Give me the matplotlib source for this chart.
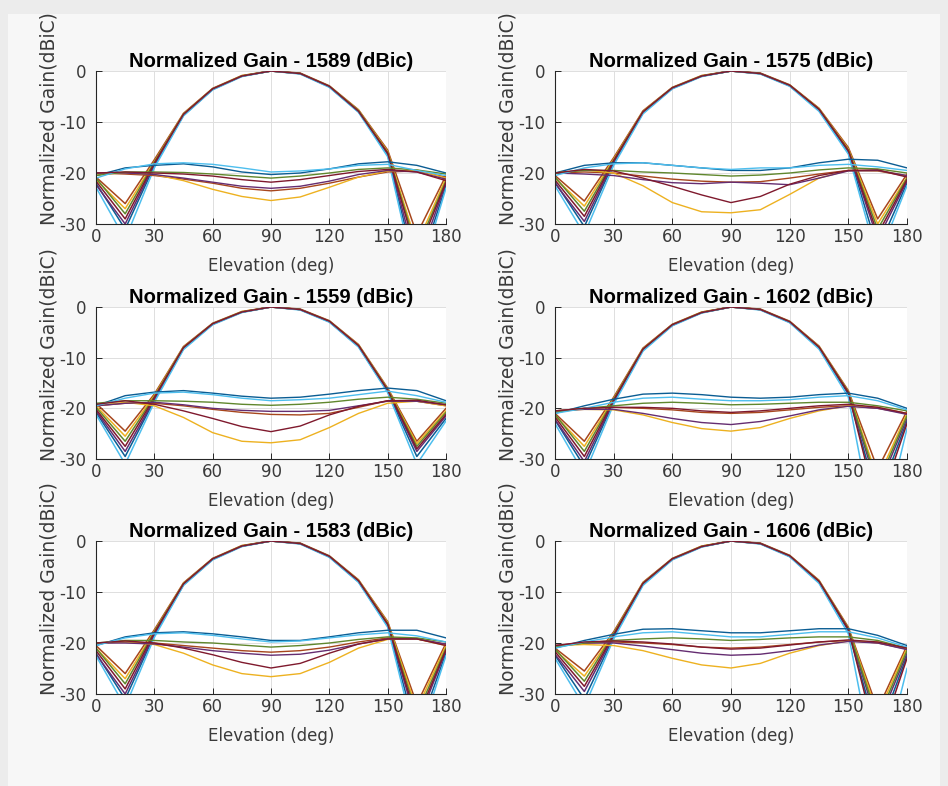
import matplotlib
matplotlib.use("Agg")
import matplotlib.pyplot as plt
from matplotlib.patches import Rectangle
from matplotlib.colors import to_rgb

plt.rcParams['axes.unicode_minus'] = False
plt.rcParams['font.family'] = ['DejaVu Sans']

# elevation samples (deg)
elev = [0, 15, 30, 45, 60, 75, 90, 105, 120, 135, 150, 165, 180]

# MATLAB default line colour order
colors = ['#0072BD', '#D95319', '#EDB120', '#7E2F8E', '#77AC30', '#4DBEEE', '#A2142F']

freqs = ['1589', '1575', '1559', '1602', '1583', '1606']

# co-pol (main beam) cuts, one row per colour
co_1589 = [
    [-22.0, -31.0, -18.6, -8.7, -3.6, -1.0, 0.0, -0.5, -3.1, -8.0, -16.4, -40.0, -22.5],
    [-20.8, -26.0, -17.4, -8.3, -3.4, -0.9, 0.0, -0.4, -2.9, -7.6, -15.5, -32.0, -20.5],
    [-21.3, -27.0, -17.8, -8.4, -3.5, -0.9, 0.0, -0.5, -3.0, -7.7, -15.8, -34.0, -21.0],
    [-22.3, -30.0, -18.3, -8.6, -3.6, -1.0, 0.0, -0.5, -3.1, -7.9, -16.2, -38.0, -22.0],
    [-21.0, -28.0, -17.9, -8.5, -3.5, -1.0, 0.0, -0.5, -3.0, -7.8, -16.0, -35.0, -21.5],
    [-22.8, -33.0, -19.0, -8.8, -3.7, -1.1, 0.0, -0.6, -3.2, -8.1, -16.8, -42.0, -23.0],
    [-21.6, -29.0, -18.1, -8.5, -3.5, -1.0, 0.0, -0.5, -3.0, -7.9, -16.1, -36.0, -21.8],
]
co_1575 = [
    [-21.8, -30.5, -18.0, -8.2, -3.4, -1.0, 0.0, -0.5, -2.9, -7.7, -15.9, -35.0, -22.0],
    [-20.5, -25.5, -17.0, -7.8, -3.2, -0.9, 0.0, -0.4, -2.7, -7.3, -15.0, -29.0, -20.2],
    [-21.0, -26.5, -17.3, -7.9, -3.3, -0.9, 0.0, -0.5, -2.8, -7.4, -15.3, -30.0, -20.8],
    [-22.0, -29.5, -17.8, -8.1, -3.4, -1.0, 0.0, -0.5, -2.9, -7.6, -15.7, -33.0, -21.6],
    [-20.8, -27.5, -17.5, -8.0, -3.3, -1.0, 0.0, -0.5, -2.8, -7.5, -15.5, -31.0, -21.0],
    [-22.5, -32.0, -18.5, -8.4, -3.5, -1.1, 0.0, -0.6, -3.0, -7.9, -16.3, -37.0, -22.5],
    [-21.4, -28.5, -17.6, -8.0, -3.3, -1.0, 0.0, -0.5, -2.8, -7.5, -15.6, -32.0, -21.3],
]
co_1559 = [
    [-20.8, -29.5, -18.4, -8.2, -3.4, -1.0, 0.0, -0.5, -2.9, -7.8, -16.7, -29.5, -22.0],
    [-19.0, -24.5, -17.2, -7.8, -3.2, -0.9, 0.0, -0.4, -2.7, -7.4, -16.0, -26.5, -20.0],
    [-19.5, -25.5, -17.5, -7.9, -3.3, -0.9, 0.0, -0.5, -2.8, -7.5, -16.2, -27.0, -20.5],
    [-20.5, -28.5, -18.2, -8.1, -3.4, -1.0, 0.0, -0.5, -2.9, -7.7, -16.5, -28.5, -21.5],
    [-19.8, -26.5, -17.7, -8.0, -3.3, -1.0, 0.0, -0.5, -2.8, -7.6, -16.3, -27.5, -20.8],
    [-21.2, -31.0, -18.8, -8.4, -3.5, -1.1, 0.0, -0.6, -3.0, -7.9, -16.9, -31.0, -22.5],
    [-20.2, -27.5, -17.9, -8.0, -3.3, -1.0, 0.0, -0.5, -2.8, -7.6, -16.4, -28.0, -21.2],
]
co_1602 = [
    [-22.3, -31.5, -18.8, -8.5, -3.6, -1.1, 0.0, -0.5, -3.0, -8.1, -17.2, -38.0, -22.5],
    [-21.0, -26.5, -17.8, -8.1, -3.4, -1.0, 0.0, -0.4, -2.8, -7.7, -16.5, -32.0, -20.5],
    [-21.4, -27.5, -18.1, -8.2, -3.5, -1.0, 0.0, -0.5, -2.9, -7.8, -16.7, -34.0, -21.0],
    [-22.2, -30.5, -18.6, -8.4, -3.6, -1.1, 0.0, -0.5, -3.0, -8.0, -17.0, -36.0, -22.0],
    [-21.2, -28.5, -18.2, -8.3, -3.5, -1.1, 0.0, -0.5, -2.9, -7.9, -16.8, -35.0, -21.5],
    [-23.0, -33.0, -19.2, -8.7, -3.7, -1.2, 0.0, -0.6, -3.1, -8.3, -17.8, -48.0, -24.0],
    [-21.7, -29.5, -18.4, -8.3, -3.5, -1.1, 0.0, -0.5, -2.9, -7.9, -16.9, -40.0, -23.0],
]
co_1583 = [
    [-22.0, -31.0, -18.5, -8.6, -3.6, -1.0, 0.0, -0.5, -3.1, -8.0, -16.6, -38.0, -22.0],
    [-20.5, -26.0, -17.4, -8.2, -3.4, -0.9, 0.0, -0.4, -2.9, -7.6, -15.8, -32.0, -20.0],
    [-21.0, -27.0, -17.7, -8.3, -3.5, -0.9, 0.0, -0.5, -3.0, -7.7, -16.0, -33.0, -20.5],
    [-22.2, -30.0, -18.3, -8.5, -3.6, -1.0, 0.0, -0.5, -3.1, -7.9, -16.4, -36.0, -21.5],
    [-21.0, -28.0, -17.8, -8.4, -3.5, -1.0, 0.0, -0.5, -3.0, -7.8, -16.2, -34.0, -21.0],
    [-22.5, -32.5, -18.9, -8.7, -3.7, -1.1, 0.0, -0.6, -3.2, -8.1, -16.9, -40.0, -22.5],
    [-21.5, -29.0, -18.0, -8.4, -3.5, -1.0, 0.0, -0.5, -3.0, -7.8, -16.3, -35.0, -21.3],
]
co_1606 = [
    [-22.4, -31.0, -18.8, -8.5, -3.6, -1.1, 0.0, -0.5, -3.0, -8.1, -17.6, -38.0, -22.5],
    [-21.0, -25.5, -17.8, -8.1, -3.4, -1.0, 0.0, -0.4, -2.8, -7.7, -16.9, -33.0, -20.5],
    [-21.4, -26.5, -18.1, -8.2, -3.5, -1.0, 0.0, -0.5, -2.9, -7.8, -17.1, -34.0, -21.0],
    [-22.2, -29.5, -18.6, -8.4, -3.6, -1.1, 0.0, -0.5, -3.0, -8.0, -17.4, -36.0, -22.0],
    [-21.2, -27.5, -18.2, -8.3, -3.5, -1.1, 0.0, -0.5, -2.9, -7.9, -17.2, -35.0, -21.5],
    [-23.0, -32.5, -19.2, -8.7, -3.7, -1.2, 0.0, -0.6, -3.1, -8.3, -18.2, -48.0, -25.0],
    [-21.7, -28.5, -18.4, -8.3, -3.5, -1.1, 0.0, -0.5, -2.9, -7.9, -17.3, -40.0, -23.0],
]

# cross-pol cuts, one row per colour
xp_1589 = [
    [-20.5, -19.0, -18.5, -18.2, -18.8, -19.8, -20.3, -20.0, -19.2, -18.2, -17.8, -18.5, -20.0],
    [-20.0, -20.2, -20.5, -21.2, -22.0, -23.0, -23.5, -23.0, -22.0, -20.8, -19.8, -19.6, -20.8],
    [-20.2, -20.0, -20.3, -21.5, -23.2, -24.6, -25.4, -24.7, -22.8, -20.8, -19.6, -19.4, -21.0],
    [-20.0, -20.0, -20.3, -21.0, -21.8, -22.6, -23.0, -22.6, -21.6, -20.3, -19.5, -19.8, -21.2],
    [-20.5, -19.8, -19.8, -19.9, -20.2, -20.6, -21.0, -20.6, -20.0, -19.3, -19.0, -19.4, -20.2],
    [-21.0, -19.2, -18.2, -18.0, -18.3, -19.0, -19.8, -19.6, -19.2, -18.5, -18.3, -19.5, -20.5],
    [-20.0, -19.8, -20.0, -20.2, -20.6, -21.3, -21.8, -21.3, -20.5, -19.7, -19.3, -19.8, -21.5],
]
xp_1575 = [
    [-20.0, -18.5, -18.0, -18.0, -18.5, -19.0, -19.5, -19.5, -19.0, -18.0, -17.3, -17.5, -19.0],
    [-20.0, -19.8, -20.0, -20.6, -21.2, -21.6, -21.8, -21.7, -21.0, -20.2, -19.5, -19.6, -20.6],
    [-20.0, -19.4, -20.0, -22.5, -25.8, -27.6, -27.8, -27.2, -24.2, -21.0, -19.5, -19.5, -20.5],
    [-20.0, -20.2, -20.5, -21.3, -21.9, -22.1, -21.8, -22.0, -22.3, -21.0, -19.6, -19.5, -20.5],
    [-20.0, -19.5, -19.5, -19.8, -20.0, -20.3, -20.6, -20.4, -20.0, -19.4, -19.0, -19.2, -20.0],
    [-20.5, -19.0, -18.2, -18.0, -18.5, -19.0, -19.3, -19.0, -19.0, -18.5, -18.3, -18.8, -19.5],
    [-20.0, -19.3, -19.6, -21.0, -22.6, -24.3, -25.8, -24.6, -22.2, -20.5, -19.5, -19.4, -20.8],
]
xp_1559 = [
    [-19.5, -17.5, -16.8, -16.5, -17.0, -17.6, -18.0, -17.8, -17.2, -16.5, -16.0, -16.5, -18.5],
    [-19.5, -19.0, -19.0, -19.5, -20.2, -20.8, -21.2, -21.3, -21.0, -19.8, -18.5, -18.6, -19.5],
    [-19.5, -18.8, -19.5, -21.8, -24.8, -26.5, -26.8, -26.2, -23.8, -21.0, -19.0, -18.6, -19.5],
    [-19.5, -19.0, -18.8, -19.3, -20.0, -20.4, -20.6, -20.6, -20.4, -19.5, -18.6, -18.6, -19.3],
    [-19.0, -18.5, -18.5, -18.6, -18.8, -19.2, -19.4, -19.2, -18.8, -18.2, -17.8, -18.2, -19.0],
    [-19.5, -18.0, -17.0, -16.8, -17.3, -18.0, -18.5, -18.3, -18.0, -17.3, -16.6, -17.5, -18.8],
    [-19.2, -18.5, -19.2, -20.5, -22.0, -23.6, -24.6, -23.5, -21.3, -19.6, -18.5, -18.4, -19.3],
]
xp_1602 = [
    [-21.0, -19.5, -18.2, -17.2, -17.0, -17.3, -17.8, -18.0, -17.8, -17.3, -17.0, -18.0, -20.0],
    [-20.5, -20.0, -19.8, -20.0, -20.3, -20.8, -21.0, -20.8, -20.3, -19.8, -19.5, -20.0, -21.0],
    [-20.5, -20.2, -20.3, -21.3, -22.8, -24.0, -24.5, -23.8, -22.0, -20.5, -19.5, -19.8, -21.0],
    [-20.5, -20.2, -20.2, -21.0, -22.0, -22.8, -23.2, -22.6, -21.5, -20.3, -19.6, -20.0, -21.2],
    [-20.8, -20.0, -19.5, -19.0, -18.8, -19.0, -19.3, -19.2, -19.0, -18.8, -18.8, -19.5, -20.5],
    [-21.0, -20.0, -18.8, -18.0, -17.8, -18.2, -18.5, -18.5, -18.3, -17.8, -17.5, -18.5, -20.3],
    [-20.5, -20.0, -19.8, -19.8, -20.0, -20.5, -20.8, -20.5, -20.0, -19.5, -19.2, -19.8, -21.0],
]
xp_1583 = [
    [-20.5, -18.8, -18.0, -17.8, -18.2, -18.8, -19.5, -19.5, -18.8, -18.0, -17.5, -17.5, -19.0],
    [-20.0, -19.8, -20.0, -20.5, -21.0, -21.5, -21.8, -21.5, -20.8, -19.8, -19.0, -19.2, -20.3],
    [-20.0, -19.8, -20.3, -22.0, -24.3, -26.0, -26.6, -26.0, -23.8, -21.0, -19.3, -19.2, -20.5],
    [-20.0, -20.0, -20.2, -20.8, -21.5, -22.0, -22.4, -22.2, -21.4, -20.2, -19.2, -19.2, -20.2],
    [-20.0, -19.5, -19.5, -19.8, -20.0, -20.4, -20.8, -20.5, -20.0, -19.3, -18.8, -19.0, -19.8],
    [-20.5, -19.0, -18.2, -18.0, -18.5, -19.2, -19.8, -19.6, -19.0, -18.4, -18.0, -18.6, -19.8],
    [-20.0, -19.6, -20.0, -21.0, -22.3, -23.8, -24.9, -24.0, -22.0, -20.2, -19.2, -19.2, -20.5],
]
xp_1606 = [
    [-21.0, -19.5, -18.3, -17.3, -17.2, -17.6, -18.0, -18.0, -17.6, -17.2, -17.2, -18.5, -20.5],
    [-20.5, -20.0, -19.8, -20.0, -20.3, -20.8, -21.0, -20.8, -20.3, -19.8, -19.5, -20.0, -21.2],
    [-20.5, -20.3, -20.5, -21.5, -23.0, -24.3, -24.9, -24.0, -22.0, -20.5, -19.6, -19.8, -21.0],
    [-20.5, -20.0, -20.0, -20.6, -21.3, -22.0, -22.4, -22.2, -21.5, -20.4, -19.7, -20.0, -21.3],
    [-20.8, -20.0, -19.5, -19.2, -19.0, -19.2, -19.5, -19.3, -19.0, -18.8, -18.8, -19.5, -21.0],
    [-21.0, -19.8, -18.8, -18.0, -17.8, -18.3, -18.8, -18.8, -18.3, -17.8, -17.8, -19.0, -20.8],
    [-20.5, -19.8, -19.6, -19.8, -20.2, -20.8, -21.2, -21.0, -20.4, -19.8, -19.4, -19.8, -21.0],
]

co_all = [co_1589, co_1575, co_1559, co_1602, co_1583, co_1606]
xp_all = [xp_1589, xp_1575, xp_1559, xp_1602, xp_1583, xp_1606]

# darker shades read closer to the picture, except yellow and cyan which stay light
dark = []
for c in colors:
    rgb = to_rgb(c)
    if c in ('#EDB120', '#4DBEEE'):
        dark.append(rgb)
    else:
        dark.append(tuple(0.72 * v + 0.28 * 0.15 for v in rgb))

fig = plt.figure(figsize=(9.48, 7.86), dpi=100, facecolor='#ececec')
fig.patches.append(Rectangle((8 / 948, 0), 932 / 948, 772 / 786, transform=fig.transFigure,
                             facecolor='#f7f7f7', edgecolor='none', zorder=-10))

# axes boxes in pixels: left, top, right, bottom
lefts = [96, 555]
rights = [446, 907]
tops = [71, 307, 541]
bottoms = [224, 459, 694]

for k in range(6):
    r, c = k // 2, k % 2
    L, R = lefts[c], rights[c]
    T, B = tops[r], bottoms[r]
    ax = fig.add_axes([L / 948, (786 - B) / 786, (R - L) / 948, (B - T) / 786])
    ax.set_facecolor('white')

    for i in range(7):
        ax.plot(elev, co_all[k][i], color=dark[i], lw=1.1)
    for i in range(7):
        ax.plot(elev, xp_all[k][i], color=dark[i], lw=1.0)

    ax.set_xlim(0, 180)
    ax.set_ylim(-30, 0)
    ax.set_xticks([0, 30, 60, 90, 120, 150, 180])
    ax.set_yticks([-30, -20, -10, 0])
    ax.grid(True, color='#dedede', lw=0.7)
    ax.set_axisbelow(True)
    for s in ['top', 'right']:
        ax.spines[s].set_visible(False)
    for s in ['left', 'bottom']:
        ax.spines[s].set_color('#262626')
        ax.spines[s].set_linewidth(0.8)
    ax.tick_params(direction='in', length=4, width=0.7, color='#262626',
                   labelcolor='#3a3a3a', labelsize=12)
    ax.tick_params(axis='x', pad=3)
    ax.tick_params(axis='y', pad=7)

    ax.set_title('Normalized Gain - ' + freqs[k] + ' (dBic)', family='Liberation Sans',
                 fontsize=14.5, fontweight='bold', pad=3)
    ax.text(0.5, -42 / (B - T), 'Elevation (deg)', transform=ax.transAxes,
            ha='center', va='center', fontsize=12, color='#3a3a3a')
    ax.text(-47 / (R - L), 0.69, 'Normalized Gain(dBiC)', transform=ax.transAxes,
            rotation=90, ha='center', va='center', fontsize=13.5, color='#3a3a3a')

fig.savefig('out.png', dpi=100, facecolor=fig.get_facecolor())
